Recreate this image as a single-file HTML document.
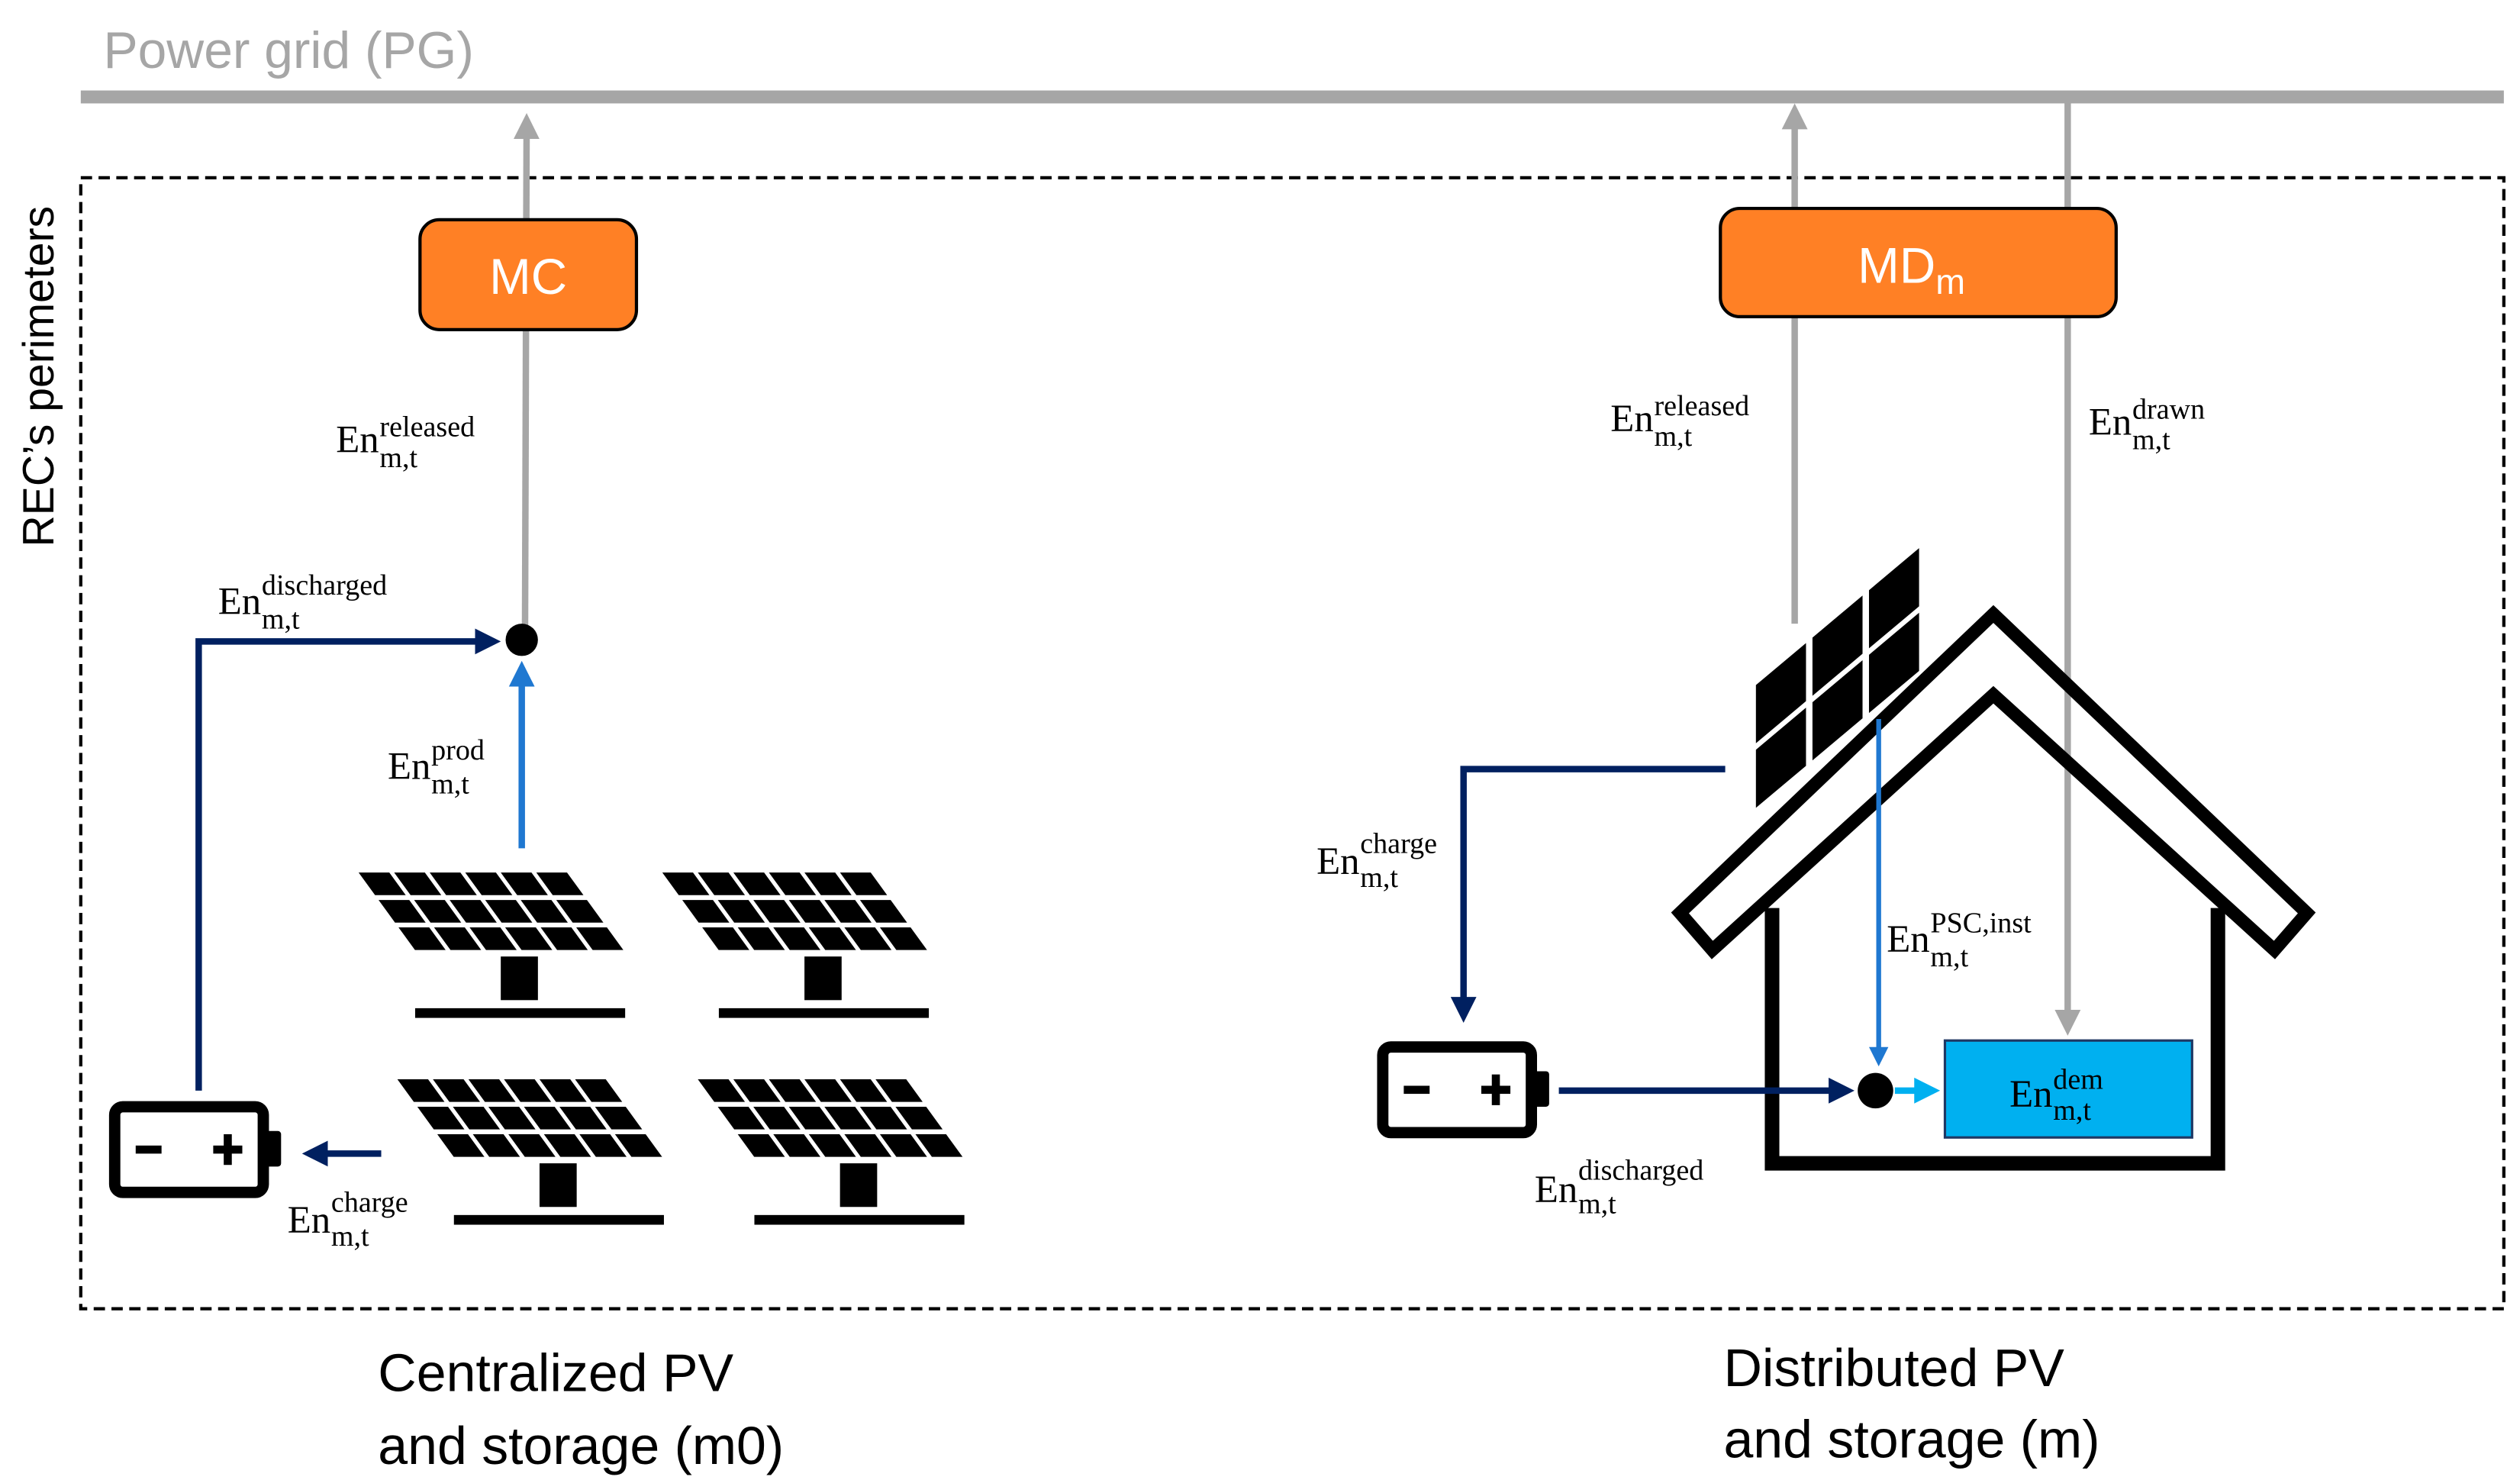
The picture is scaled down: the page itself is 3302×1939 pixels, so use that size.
<!DOCTYPE html>
<html><head><meta charset="utf-8"><style>
html,body{margin:0;padding:0;background:#fff;}
svg{display:block;}
.l{font-family:"Liberation Serif",serif;fill:#000;}
.s{font-family:"Liberation Sans",sans-serif;}
</style></head><body>
<svg width="3302" height="1939" viewBox="0 0 1560 916" preserveAspectRatio="none" xmlns="http://www.w3.org/2000/svg">
<defs>
<marker id="ag" markerWidth="4" markerHeight="4" refX="3" refY="2" orient="auto" markerUnits="strokeWidth"><path d="M0,0 L4,2 L0,4 z" fill="#a6a6a6"/></marker>
<marker id="ad" markerWidth="4" markerHeight="4" refX="3" refY="2" orient="auto" markerUnits="strokeWidth"><path d="M0,0 L4,2 L0,4 z" fill="#002060"/></marker>
<marker id="ab" markerWidth="4" markerHeight="4" refX="3" refY="2" orient="auto" markerUnits="strokeWidth"><path d="M0,0 L4,2 L0,4 z" fill="#1f78d1"/></marker>
<marker id="ac" markerWidth="4" markerHeight="4" refX="3" refY="2" orient="auto" markerUnits="strokeWidth"><path d="M0,0 L4,2 L0,4 z" fill="#00b0f0"/></marker>
<g id="cells">
<g fill="#000">
<rect x="0" y="0" width="19" height="14"/><rect x="22" y="0" width="19" height="14"/><rect x="44" y="0" width="19" height="14"/><rect x="66" y="0" width="19" height="14"/><rect x="88" y="0" width="19" height="14"/><rect x="110" y="0" width="19" height="14"/>
<rect x="0" y="17" width="19" height="14"/><rect x="22" y="17" width="19" height="14"/><rect x="44" y="17" width="19" height="14"/><rect x="66" y="17" width="19" height="14"/><rect x="88" y="17" width="19" height="14"/><rect x="110" y="17" width="19" height="14"/>
<rect x="0" y="34" width="19" height="14"/><rect x="22" y="34" width="19" height="14"/><rect x="44" y="34" width="19" height="14"/><rect x="66" y="34" width="19" height="14"/><rect x="88" y="34" width="19" height="14"/><rect x="110" y="34" width="19" height="14"/>
</g></g>
<g id="panel">
<g transform="skewX(36)"><use href="#cells"/></g>
<rect x="88" y="52" width="23" height="27" fill="#000"/>
<rect x="35" y="84" width="130" height="6" fill="#000"/>
</g>
<g id="batt">
<rect x="3" y="3" width="92" height="53" rx="5" fill="#fff" stroke="#000" stroke-width="7"/>
<rect x="96" y="18" width="10" height="22" rx="2" fill="#000"/>
<rect x="16" y="27" width="16" height="5" fill="#000"/>
<rect x="64" y="27" width="18" height="5" fill="#000"/>
<rect x="70.5" y="20" width="5" height="19" fill="#000"/>
</g>
</defs>

<text x="64" y="42" class="s" font-size="32" fill="#a6a6a6">Power grid (PG)</text>
<rect x="50" y="56" width="1500" height="8" fill="#a6a6a6"/>

<rect x="50" y="110" width="1500" height="700" fill="none" stroke="#000" stroke-width="2" stroke-dasharray="7,4"/>
<text transform="translate(33,233) rotate(-90)" text-anchor="middle" class="s" font-size="27">REC’s perimeters</text>

<line x1="325" y1="396" x2="326" y2="74" stroke="#a6a6a6" stroke-width="4" marker-end="url(#ag)"/>
<rect x="260" y="136" width="134" height="68" rx="12" fill="#ff8025" stroke="#000" stroke-width="2"/>
<text x="327" y="182" text-anchor="middle" class="s" font-size="31" fill="#fff">MC</text>

<polyline points="123,675 123,397 306,397" fill="none" stroke="#002060" stroke-width="4" marker-end="url(#ad)"/>
<line x1="323" y1="525" x2="323" y2="413" stroke="#1f78d1" stroke-width="4" marker-end="url(#ab)"/>
<circle cx="323" cy="396" r="10" fill="#000"/>

<use href="#panel" x="222" y="540"/>
<use href="#panel" x="410" y="540"/>
<use href="#panel" x="246" y="668"/>
<use href="#panel" x="432" y="668"/>

<use href="#batt" x="68" y="682"/>
<line x1="236" y1="714" x2="191" y2="714" stroke="#002060" stroke-width="4" marker-end="url(#ad)"/>

<text x="208" y="280" class="l" font-size="24">En</text><text x="235" y="270" class="l" font-size="18">released</text><text x="235" y="289" class="l" font-size="18">m,t</text>
<text x="135" y="380" class="l" font-size="24">En</text><text x="162" y="368" class="l" font-size="18">discharged</text><text x="162" y="389" class="l" font-size="18">m,t</text>
<text x="240" y="482" class="l" font-size="24">En</text><text x="267" y="470" class="l" font-size="18">prod</text><text x="267" y="491" class="l" font-size="18">m,t</text>
<text x="178" y="763" class="l" font-size="24">En</text><text x="205" y="750" class="l" font-size="18">charge</text><text x="205" y="771" class="l" font-size="18">m,t</text>

<text x="234" y="861" class="s" font-size="33">Centralized PV</text>
<text x="234" y="906" class="s" font-size="33">and storage (m0)</text>

<line x1="1111" y1="386" x2="1111" y2="68" stroke="#a6a6a6" stroke-width="4" marker-end="url(#ag)"/>
<line x1="1280" y1="62" x2="1280" y2="637" stroke="#a6a6a6" stroke-width="4" marker-end="url(#ag)"/>
<rect x="1065" y="129" width="245" height="67" rx="12" fill="#ff8025" stroke="#000" stroke-width="2"/>
<text x="1150" y="175" class="s" font-size="31" fill="#fff">MD<tspan font-size="22" dy="7">m</tspan></text>

<polygon points="1234,380 1428,565 1408,588 1234,430 1060,588 1040,565" fill="none" stroke="#000" stroke-width="8" stroke-linejoin="miter"/>
<polyline points="1097,562 1097,720 1373,720 1373,562" fill="none" stroke="#000" stroke-width="9"/>
<g transform="translate(1087,424) skewY(-40)">
<rect x="0" y="0" width="31" height="36" fill="#000"/><rect x="35" y="0" width="31" height="36" fill="#000"/><rect x="70" y="0" width="31" height="36" fill="#000"/>
<rect x="0" y="40" width="31" height="36" fill="#000"/><rect x="35" y="40" width="31" height="36" fill="#000"/><rect x="70" y="40" width="31" height="36" fill="#000"/>
</g>

<polyline points="1068,476 906,476 906,629" fill="none" stroke="#002060" stroke-width="4" marker-end="url(#ad)"/>
<use href="#batt" x="853" y="645"/>
<line x1="965" y1="675" x2="1144" y2="675" stroke="#002060" stroke-width="4" marker-end="url(#ad)"/>
<line x1="1163" y1="445" x2="1163" y2="657" stroke="#1f78d1" stroke-width="3" marker-end="url(#ab)"/>
<circle cx="1161" cy="675" r="11" fill="#000"/>
<line x1="1173" y1="675" x2="1197" y2="675" stroke="#00b0f0" stroke-width="4" marker-end="url(#ac)"/>
<rect x="1204" y="644" width="153" height="60" fill="#00b0f0" stroke="#1f3864" stroke-width="1.5"/>
<text x="1244" y="685" class="l" font-size="24">En</text><text x="1271" y="674" class="l" font-size="18">dem</text><text x="1271" y="693" class="l" font-size="18">m,t</text>

<text x="997" y="267" class="l" font-size="24">En</text><text x="1024" y="257" class="l" font-size="18">released</text><text x="1024" y="276" class="l" font-size="18">m,t</text>
<text x="1293" y="269" class="l" font-size="24">En</text><text x="1320" y="259" class="l" font-size="18">drawn</text><text x="1320" y="278" class="l" font-size="18">m,t</text>
<text x="815" y="541" class="l" font-size="24">En</text><text x="842" y="528" class="l" font-size="18">charge</text><text x="842" y="549" class="l" font-size="18">m,t</text>
<text x="1168" y="589" class="l" font-size="24">En</text><text x="1195" y="577" class="l" font-size="18">PSC,inst</text><text x="1195" y="598" class="l" font-size="18">m,t</text>
<text x="950" y="744" class="l" font-size="24">En</text><text x="977" y="730" class="l" font-size="18">discharged</text><text x="977" y="751" class="l" font-size="18">m,t</text>

<text x="1067" y="858" class="s" font-size="33">Distributed PV</text>
<text x="1067" y="902" class="s" font-size="33">and storage (m)</text>
</svg>
</body></html>
